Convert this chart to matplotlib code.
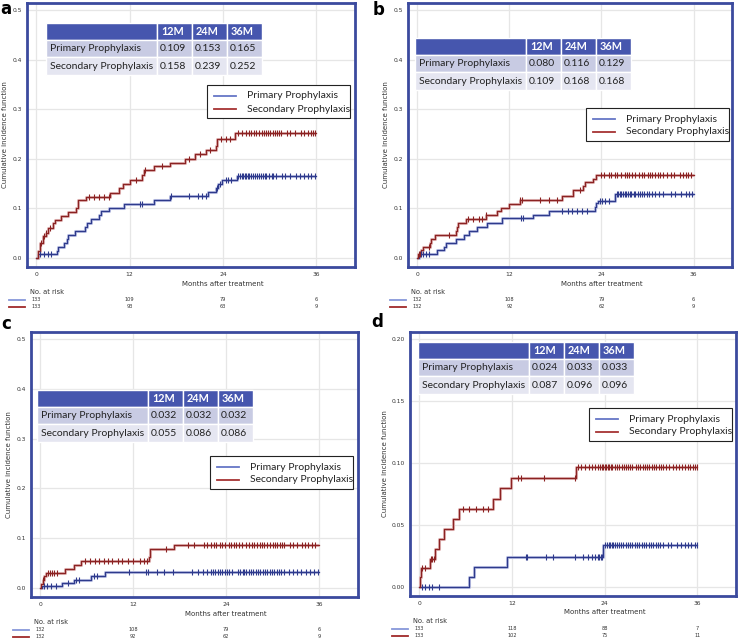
import numpy as np
import matplotlib
matplotlib.use("Agg")
import matplotlib.pyplot as plt
from matplotlib.patches import Rectangle

plt.rcParams['font.family'] = ['DejaVu Sans']

# ---------------- data ----------------
panel_letters = ["a", "b", "c", "d"]
group_names = ["Primary Prophylaxis", "Secondary Prophylaxis"]
table_cols = ["12M", "24M", "36M"]
months_ticks = [0, 12, 24, 36]

# Panel a
a_pri_t = [0, 0.2, 2.7, 2.8, 3.6, 3.9, 4.1, 5.0, 6.3, 6.5, 7.0, 8.1, 8.3, 9.3, 11.3, 15.1, 17.2, 22.1, 23.1, 23.4, 23.9, 25.8]
a_pri_v = [0, 0.008, 0.015, 0.023, 0.031, 0.039, 0.047, 0.055, 0.063, 0.070, 0.078, 0.086, 0.094, 0.101, 0.109, 0.117, 0.125, 0.133, 0.141, 0.149, 0.157, 0.165]
a_pri_c = [0.5, 1.0, 1.5, 1.9, 13.4, 13.6, 17.3, 19.7, 20.8, 21.3, 21.8, 23.2, 23.6, 24.4, 24.7, 25.1, 26.0, 26.2, 26.4, 26.6, 26.8, 27.0, 27.2, 27.4, 27.6, 27.9, 28.1, 28.4, 28.6, 28.9, 29.1, 29.4, 29.6, 29.9, 30.3, 30.5, 30.8, 31.6, 32.0, 32.6, 33.4, 33.9, 34.4, 35.0, 35.4, 35.8]
a_sec_t = [0, 0.2, 0.5, 0.8, 1.2, 1.5, 2.2, 2.4, 3.2, 4.1, 5.1, 5.3, 6.4, 9.5, 10.6, 11.1, 12.0, 13.6, 13.8, 15.2, 17.2, 19.1, 20.4, 21.8, 23.1, 23.3, 25.6]
a_sec_v = [0, 0.015, 0.030, 0.045, 0.050, 0.060, 0.070, 0.077, 0.085, 0.093, 0.100, 0.117, 0.124, 0.132, 0.142, 0.150, 0.158, 0.168, 0.177, 0.185, 0.192, 0.200, 0.210, 0.218, 0.226, 0.239, 0.252]
a_sec_c = [0.6, 1.0, 1.3, 1.7, 6.8, 7.4, 8.1, 8.7, 9.3, 12.8, 14.0, 16.2, 19.7, 21.0, 22.4, 23.7, 24.4, 24.9, 25.9, 26.4, 27.0, 27.3, 27.6, 28.0, 28.3, 28.7, 29.0, 29.3, 29.5, 29.8, 30.1, 30.4, 30.7, 31.0, 31.2, 31.5, 32.3, 32.7, 33.3, 34.1, 34.5, 35.0, 35.3, 35.6, 35.9]
a_table = [["0.109", "0.153", "0.165"], ["0.158", "0.239", "0.252"]]
a_risk = [[133, 109, 79, 6], [133, 93, 63, 9]]

# Panel b
b_pri_t = [0, 0.2, 2.6, 3.5, 3.8, 5.0, 6.1, 6.8, 7.8, 9.1, 11.1, 15.1, 17.1, 23.1, 23.3, 23.6, 25.7]
b_pri_v = [0, 0.008, 0.016, 0.023, 0.031, 0.039, 0.047, 0.055, 0.063, 0.071, 0.080, 0.087, 0.095, 0.103, 0.110, 0.116, 0.129]
b_pri_c = [0.5, 0.8, 1.1, 1.6, 13.5, 13.8, 18.8, 19.6, 20.2, 20.8, 21.4, 22.1, 23.8, 24.1, 24.5, 25.0, 26.0, 26.2, 26.4, 26.6, 26.8, 27.0, 27.2, 27.4, 27.7, 27.9, 28.2, 28.4, 28.7, 29.0, 29.3, 29.6, 29.9, 30.2, 30.6, 31.0, 31.5, 32.0, 33.0, 33.6, 34.3, 35.0, 35.4, 35.8]
b_sec_t = [0, 0.1, 0.5, 0.7, 1.7, 1.8, 2.3, 5.1, 5.2, 5.3, 6.3, 9.0, 10.4, 10.9, 11.9, 13.4, 18.9, 20.3, 21.6, 21.8, 22.9, 23.3]
b_sec_v = [0, 0.008, 0.016, 0.023, 0.031, 0.039, 0.047, 0.055, 0.063, 0.070, 0.078, 0.086, 0.094, 0.101, 0.109, 0.117, 0.125, 0.137, 0.145, 0.153, 0.160, 0.168]
b_sec_c = [0.2, 0.3, 1.5, 4.1, 6.6, 7.3, 8.0, 8.5, 9.0, 13.4, 13.6, 16.0, 17.2, 18.2, 21.2, 23.9, 24.3, 25.0, 25.3, 25.7, 26.0, 26.5, 27.0, 27.3, 27.6, 28.0, 28.4, 28.9, 29.3, 29.6, 30.0, 30.3, 30.6, 31.0, 31.3, 31.6, 32.0, 32.5, 33.0, 33.5, 34.2, 34.6, 35.0, 35.3, 35.7]
b_table = [["0.080", "0.116", "0.129"], ["0.109", "0.168", "0.168"]]
b_risk = [[132, 108, 79, 6], [132, 92, 62, 9]]

# Panel c
c_pri_t = [0, 0.2, 2.8, 4.3, 6.6, 8.3]
c_pri_v = [0, 0.004, 0.010, 0.017, 0.025, 0.033]
c_pri_c = [0.5, 0.9, 1.4, 2.0, 3.6, 4.6, 5.0, 6.9, 7.3, 11.4, 13.7, 13.9, 15.0, 16.0, 17.1, 19.6, 20.3, 21.0, 21.5, 22.0, 22.3, 22.6, 22.9, 23.2, 23.5, 23.8, 24.1, 24.4, 24.8, 25.5, 25.8, 26.1, 26.3, 26.6, 26.9, 27.2, 27.5, 27.8, 28.1, 28.4, 28.7, 29.0, 29.3, 29.6, 29.9, 30.2, 30.5, 30.8, 31.1, 31.5, 32.1, 32.6, 33.1, 33.6, 34.3, 34.8, 35.3, 35.9]
c_sec_t = [0, 0.1, 0.3, 0.5, 0.8, 3.2, 4.3, 5.3, 14.0, 14.1, 17.2]
c_sec_v = [0, 0.008, 0.016, 0.024, 0.031, 0.039, 0.047, 0.055, 0.063, 0.078, 0.086]
c_sec_c = [0.3, 1.0, 1.3, 1.5, 1.8, 2.1, 5.8, 6.4, 7.0, 7.6, 8.2, 8.8, 9.3, 10.0, 10.6, 11.3, 11.9, 12.9, 13.4, 13.8, 16.2, 19.0, 19.8, 21.1, 21.5, 22.0, 22.4, 22.7, 23.2, 23.5, 23.9, 24.3, 24.6, 25.0, 25.3, 25.7, 26.0, 26.5, 26.9, 27.3, 27.6, 28.0, 28.3, 28.6, 28.9, 29.3, 29.6, 30.0, 30.3, 30.6, 30.9, 31.2, 31.5, 32.2, 32.6, 33.1, 33.8, 34.2, 34.6, 35.0, 35.5]
c_table = [["0.032", "0.032", "0.032"], ["0.055", "0.086", "0.086"]]
c_risk = [[132, 108, 79, 6], [132, 92, 62, 9]]

# Panel d
d_pri_t = [0, 6.4, 7.1, 11.3, 23.8]
d_pri_v = [0, 0.008, 0.016, 0.024, 0.034]
d_pri_c = [0.4, 0.8, 1.2, 1.6, 2.5, 13.8, 14.0, 16.4, 17.3, 20.1, 21.2, 21.8, 22.4, 22.8, 23.1, 23.3, 23.5, 23.7, 24.1, 24.3, 24.5, 24.7, 24.9, 25.1, 25.3, 25.6, 25.9, 26.1, 26.4, 26.7, 27.0, 27.3, 27.6, 27.9, 28.2, 28.5, 28.8, 29.1, 29.4, 29.7, 30.0, 30.3, 30.6, 30.9, 31.2, 31.5, 32.2, 32.6, 33.3, 33.9, 34.4, 34.8, 35.2, 35.7, 35.9]
d_sec_t = [0, 0.1, 0.2, 1.4, 2.1, 2.5, 3.2, 4.4, 5.2, 9.5, 10.5, 11.9, 20.3]
d_sec_v = [0, 0.008, 0.015, 0.023, 0.031, 0.039, 0.047, 0.055, 0.063, 0.071, 0.080, 0.088, 0.097]
d_sec_c = [0.3, 0.8, 1.5, 1.7, 1.9, 5.7, 6.5, 7.4, 8.2, 8.9, 12.8, 13.2, 16.2, 20.1, 20.6, 21.0, 21.5, 22.0, 22.4, 22.8, 23.1, 23.4, 23.6, 23.8, 24.0, 24.2, 24.4, 24.6, 24.8, 25.0, 25.3, 25.6, 25.9, 26.2, 26.5, 26.8, 27.0, 27.3, 27.6, 28.0, 28.3, 28.6, 28.9, 29.2, 29.5, 29.8, 30.1, 30.4, 30.7, 31.0, 31.3, 31.6, 31.9, 32.3, 32.8, 33.2, 33.6, 34.0, 34.4, 34.8, 35.1, 35.4, 35.7, 35.9]
d_table = [["0.024", "0.033", "0.033"], ["0.087", "0.096", "0.096"]]
d_risk = [[133, 118, 88, 7], [133, 102, 75, 11]]

# ---------------- layout (pixels) ----------------
W, H = 738, 640
fig = plt.figure(figsize=(W / 100, H / 100), dpi=100)

FRAME = '#3B4A9E'
DARK = ['#2E3A8C', '#8B2222']
HALO = ['#BCC2E4', '#E0B6B6']
LEG = ['#6676C6', '#A63333']
RISKC = ['#8797DA', '#A02A2A']
TXT = '#333333'

panels = [
    dict(box=(27, 3, 355, 267), ymax=0.5, step=0.1, fmt="{:.1f}",
         pri=(a_pri_t, a_pri_v, a_pri_c), sec=(a_sec_t, a_sec_v, a_sec_c),
         table=a_table, risk=a_risk, tpos=(46, 23), lpos=(207, 85), letter=(0, 9)),
    dict(box=(408, 3, 732, 267), ymax=0.5, step=0.1, fmt="{:.1f}",
         pri=(b_pri_t, b_pri_v, b_pri_c), sec=(b_sec_t, b_sec_v, b_sec_c),
         table=b_table, risk=b_risk, tpos=(415, 38), lpos=(586, 108), letter=(373, 10)),
    dict(box=(31, 332, 358, 597), ymax=0.5, step=0.1, fmt="{:.1f}",
         pri=(c_pri_t, c_pri_v, c_pri_c), sec=(c_sec_t, c_sec_v, c_sec_c),
         table=c_table, risk=c_risk, tpos=(37, 390), lpos=(210, 456), letter=(1, 324)),
    dict(box=(410, 332, 736, 596), ymax=0.2, step=0.05, fmt="{:.2f}",
         pri=(d_pri_t, d_pri_v, d_pri_c), sec=(d_sec_t, d_sec_v, d_sec_c),
         table=d_table, risk=d_risk, tpos=(418, 342), lpos=(589, 408), letter=(371, 322)),
]

for idx, p in enumerate(panels):
    l, t, r, b = p['box']
    h = b - t
    ax = fig.add_axes([l / W, 1 - b / H, (r - l) / W, h / H])
    ym = p['ymax']
    ax.set_xlim(-1.2, 41.0)
    ax.set_ylim(-0.036 * ym, 1.028 * ym)
    ax.set_xticks(months_ticks)
    yt = np.arange(0, ym + 1e-9, p['step'])
    ax.set_yticks(yt)
    ax.set_yticklabels([p['fmt'].format(v) for v in yt])
    ax.grid(True, color='#E6E6E6', lw=0.9)
    ax.set_axisbelow(True)
    ax.tick_params(length=0, labelsize=4.3, colors=TXT, pad=3.5)
    for s in ax.spines.values():
        s.set_color(FRAME)
        s.set_linewidth(2.0)
    ax.set_ylabel("Cumulative incidence function", fontsize=5, color=TXT, labelpad=3)
    # x-axis title centred on 24 months, 16 px under the frame
    ax.text(24, -16.5 / h, "Months after treatment", transform=ax.get_xaxis_transform(),
            fontsize=5, color=TXT, ha='center', va='center', clip_on=False)

    for gi, key in enumerate(['pri', 'sec']):
        tt, vv, cc = p[key]
        tt = list(tt) + [36.0]
        vv = list(vv) + [vv[-1]]
        ax.step(tt, vv, where='post', color=HALO[gi], lw=2.2, solid_capstyle='butt', zorder=3)
        ax.step(tt, vv, where='post', color=DARK[gi], lw=0.9, zorder=4)
        cy = np.array(vv)[np.searchsorted(np.array(tt), np.array(cc), side='right') - 1]
        ax.plot(cc, cy, ls='none', marker='|', ms=4.0, mew=0.8, color=DARK[gi], zorder=5)

    # numbers at risk
    for gi in range(2):
        yy = -(32.5 + 7 * gi) / h
        for xv, n in zip(months_ticks, p['risk'][gi]):
            ax.text(xv, yy, str(n), transform=ax.get_xaxis_transform(), fontsize=3.6,
                    color=TXT, ha='center', va='center', clip_on=False)

# overlay for tables, legends, labels
ov = fig.add_axes([0, 0, 1, 1])
ov.set_xlim(0, W)
ov.set_ylim(H, 0)
ov.axis('off')
ov.patch.set_alpha(0)

TFONT = ['Lato', 'DejaVu Sans']
colw = [111, 35, 35, 35]
rowh = [16.5, 17.5, 17.5]
rowfill = ['#4656AE', '#C8CBE3', '#E5E6F1']

for idx, p in enumerate(panels):
    l, t, r, b = p['box']
    # table
    x0, y0 = p['tpos']
    y = y0
    for ri in range(3):
        x = x0
        for ci in range(4):
            ov.add_patch(Rectangle((x, y), colw[ci], rowh[ri], facecolor=rowfill[ri],
                                   edgecolor='white', lw=1.0, zorder=10))
            if ri == 0:
                txt = "" if ci == 0 else table_cols[ci - 1]
                ov.text(x + 4, y + rowh[ri] / 2 + 0.5, txt, fontsize=7.8, color='white',
                        fontweight='bold', family=TFONT, ha='left', va='center', zorder=11)
            else:
                txt = group_names[ri - 1] if ci == 0 else p['table'][ri - 1][ci - 1]
                ov.text(x + (4 if ci == 0 else 3), y + rowh[ri] / 2 + 0.5, txt, fontsize=7.5,
                        color='#222222', family=TFONT, ha='left', va='center', zorder=11)
            x += colw[ci]
        y += rowh[ri]
    # legend
    lx, ly = p['lpos']
    ov.add_patch(Rectangle((lx, ly), 143, 33, facecolor='white', edgecolor='#222222',
                           lw=0.8, zorder=10))
    for gi in range(2):
        yy = ly + 11 + 13 * gi
        ov.plot([lx + 7, lx + 29], [yy, yy], color=LEG[gi], lw=1.3, zorder=11)
        ov.text(lx + 40, yy, group_names[gi], fontsize=7.5, family=TFONT, color='#222222',
                ha='left', va='center', zorder=11)
    # risk table header & colour lines
    ov.text(l + 3, b + 25, "No. at risk", fontsize=4.8, color=TXT, ha='left', va='center')
    for gi in range(2):
        yy = b + 32.5 + 7 * gi
        ov.plot([l - 18, l - 2], [yy, yy], color=RISKC[gi], lw=1.3)
    # letter
    lx0, ly0 = p['letter']
    ov.text(lx0, ly0, panel_letters[idx], fontsize=12,
            fontweight='bold', ha='left', va='center', color='black')

fig.savefig("out.png", dpi=100)
